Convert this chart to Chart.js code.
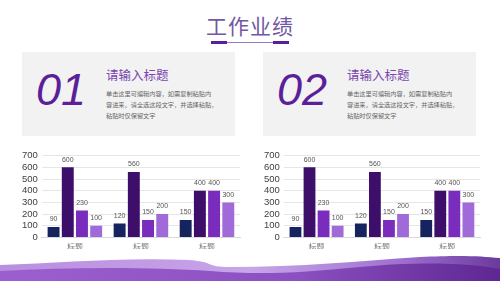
<!DOCTYPE html>
<html>
<head>
<meta charset="utf-8">
<script src="https://cdn.jsdelivr.net/npm/chart.js@4/dist/chart.umd.min.js"></script>
<style>
  html, body { margin: 0; padding: 0; }
  body { width: 500px; height: 281px; position: relative; overflow: hidden; background: #fff;
         font-family: "Noto Sans CJK SC", "Noto Sans", sans-serif; }
  .title { position: absolute; left: 0; width: 500px; top: 11px; text-align: center;
           font-size: 21px; color: #7258a2; letter-spacing: 1px; line-height: 28px; }
  .uline { position: absolute; top: 42px; height: 1px; left: 211px; width: 78px; background: #9a78c8; }
  .uline .l, .uline .r { position: absolute; top: -1px; height: 3px; width: 16px; background: #5a1f9a; }
  .uline .l { left: 0; } .uline .r { right: 0; }
  .panel { position: absolute; top: 52px; height: 84px; width: 213px; background: #f2f2f2; }
  .num { position: absolute; left: 14px; top: 13px; font-family: "Liberation Sans", Arial, sans-serif;
         font-style: italic; font-size: 45px; color: #5b1f9a; line-height: 50px; }
  .head { position: absolute; left: 84px; top: 15px; font-size: 12.5px; color: #7a45b0; line-height: 16px; }
  .body { position: absolute; left: 84px; top: 36px; font-size: 6.2px; color: #666;
          line-height: 11px; white-space: nowrap; }
  .cw { position: absolute; top: 146px; width: 226px; height: 103px; }
  .wave { position: absolute; left: 0; top: 255px; }
</style>
</head>
<body>
<div class="title">工作业绩</div>
<div class="uline"><div class="l"></div><div class="r"></div></div>

<div class="panel" style="left:22px">
  <div class="num">01</div>
  <div class="head">请输入标题</div>
  <div class="body">单击这里可编辑内容，如需复制粘贴内<br>容进来，请全选这段文字，并选择粘贴，<br>粘贴时仅保留文字</div>
</div>
<div class="panel" style="left:263px">
  <div class="num">02</div>
  <div class="head">请输入标题</div>
  <div class="body">单击这里可编辑内容，如需复制粘贴内<br>容进来，请全选这段文字，并选择粘贴，<br>粘贴时仅保留文字</div>
</div>

<div class="cw" style="left:18px"><canvas id="chart1"></canvas></div>
<div class="cw" style="left:260px; width:224px"><canvas id="chart2"></canvas></div>

<svg class="wave" width="500" height="26" viewBox="0 0 500 26">
  <defs>
    <linearGradient id="g1" x1="0" x2="1" y1="0" y2="0">
      <stop offset="0" stop-color="#9c5fd0"/>
      <stop offset="0.6" stop-color="#8a4fc0"/>
      <stop offset="1" stop-color="#5e2792"/>
    </linearGradient>
    <linearGradient id="g2" x1="0" x2="1" y1="0" y2="0">
      <stop offset="0" stop-color="#b98ee0"/>
      <stop offset="0.5" stop-color="#c7a5e8"/>
      <stop offset="0.8" stop-color="#a070d0"/>
      <stop offset="1" stop-color="#6a3a9e"/>
    </linearGradient>
  </defs>
  <path d="M0 10 C60 8 120 2 190 5 C215 7 205 12 230 12 C300 12 360 6 420 2 C460 0 480 1 500 3 L500 26 L0 26 Z" fill="url(#g2)"/>
  <path d="M0 16 C70 12 150 12 210 16 C260 20 300 18 360 12 C420 6 470 8 500 14 L500 26 L0 26 Z" fill="url(#g1)"/>
</svg>

<script>
const categories = ['标题', '标题', '标题'];
const series1 = [90, 120, 150];
const series2 = [600, 560, 400];
const series3 = [230, 150, 400];
const series4 = [100, 200, 300];
const yTicks = [0, 100, 200, 300, 400, 500, 600, 700];

const colors = ['#15245e', '#3d0f6b', '#7a2cbd', '#a06ad8'];

// value labels above each bar
const barLabels = {
  id: 'barLabels',
  afterDatasetsDraw(chart) {
    const ctx = chart.ctx;
    ctx.save();
    ctx.font = '7px "Liberation Sans", Arial, sans-serif';
    ctx.fillStyle = '#555';
    ctx.textAlign = 'center';
    ctx.textBaseline = 'bottom';
    chart.data.datasets.forEach((ds, i) => {
      chart.getDatasetMeta(i).data.forEach((bar, j) => {
        ctx.fillText(ds.data[j], bar.x, bar.y - 4);
      });
    });
    ctx.restore();
  }
};

function makeChart(id) {
  const ctx = document.getElementById(id).getContext('2d');
  return new Chart(ctx, {
    type: 'bar',
    data: {
      labels: categories,
      datasets: [series1, series2, series3, series4].map((d, i) => ({
        label: 'S' + (i + 1),
        data: d,
        backgroundColor: colors[i],
        borderWidth: 0,
        barPercentage: 0.84,
        categoryPercentage: 0.86
      }))
    },
    options: {
      responsive: true,
      maintainAspectRatio: false,
      animation: false,
      layout: { padding: { top: 2, right: 4, left: 0, bottom: 0 } },
      plugins: { legend: { display: false }, tooltip: { enabled: false } },
      scales: {
        x: {
          grid: { display: false },
          border: { color: '#d9d9d9' },
          ticks: { color: '#777', font: { size: 8, family: '"Noto Sans CJK SC", sans-serif' }, padding: -3 }
        },
        y: {
          min: 0, max: 700,
          afterBuildTicks(axis) { axis.ticks = yTicks.map(v => ({ value: v })); },
          grid: { color: '#e6e6e6', drawTicks: false },
          border: { display: false },
          ticks: { autoSkip: false, color: '#404040', font: { size: 9.5, family: '"Liberation Sans", Arial, sans-serif' }, padding: 4 }
        }
      }
    },
    plugins: [barLabels]
  });
}

makeChart('chart1');
makeChart('chart2');
</script>
</body>
</html>
